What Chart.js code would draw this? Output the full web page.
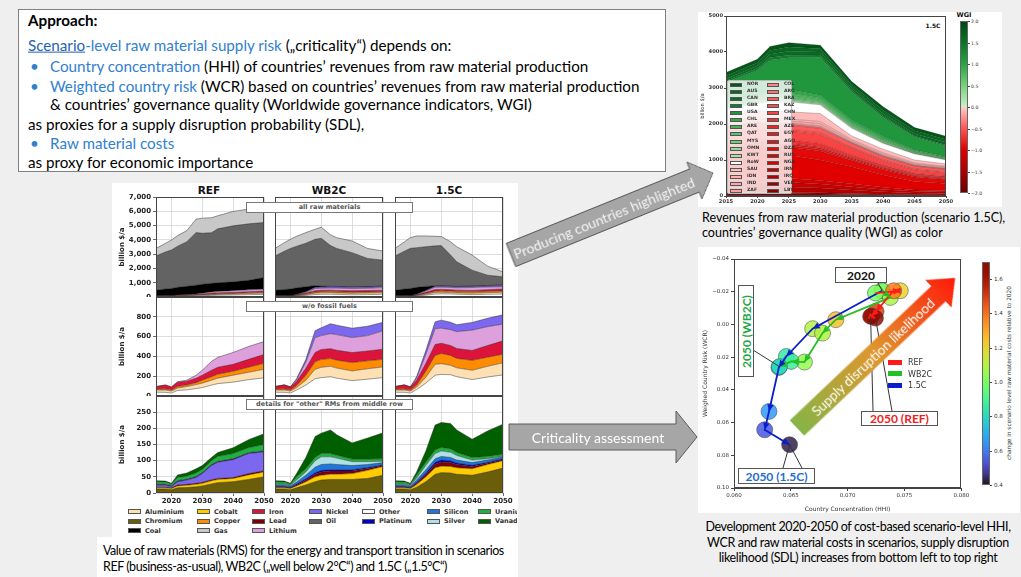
<!DOCTYPE html>
<html>
<head>
<meta charset="utf-8">
<title>Raw material criticality</title>
<script src="https://cdn.jsdelivr.net/npm/chart.js@4.4.1/dist/chart.umd.min.js"></script>
<style>
html, body { margin: 0; padding: 0; }
body { width: 1021px; height: 577px; position: relative; overflow: hidden; background: #efefef; font-family: Lato, "Noto Sans", sans-serif; color: #111; }
.box { position: absolute; background: #fff; }
.t { position: absolute; white-space: nowrap; transform: translateY(-50%); line-height: 1.1; }
canvas { position: absolute; }
.ap { font-size: 15.2px; color: #000; }
.blue, .ap.blue { color: #2f80cf; }
.tag { position: absolute; z-index: 5; background: #fff; border: 1px solid #777; box-sizing: border-box; font: bold 6.5px "DejaVu Sans", sans-serif; color: #555; text-align: center; line-height: 9px; }
.ttl { position: absolute; font: bold 10.5px "DejaVu Sans", sans-serif; transform: translate(-50%, -50%); }
.leg { position: absolute; font: bold 6.5px "DejaVu Sans", sans-serif; color: #333; white-space: nowrap; }
.sw { position: absolute; border: 0.5px solid #555; box-sizing: border-box; }
.cap { font-size: 12.5px; color: #000; }
.note { position: absolute; z-index: 6; background: #fff; border: 1px solid #555; box-sizing: border-box; font: bold 12px Lato, sans-serif; display: flex; align-items: center; justify-content: center; }
</style>
</head>
<body>

<!-- approach text box -->
<div class="box" style="left:18px;top:9px;width:648px;height:163px;border:1px solid #808080;box-sizing:border-box"></div>
<div class="t ap" style="left:28px;top:20px;font-weight:700">Approach:</div>
<div class="t ap" style="left:28px;top:45px"><span class="blue"><u style="color:#1f64b4">Scenario</u>-level raw material supply risk</span> („criticality“) depends on:</div>
<div class="t ap blue" style="left:30px;top:66px">•</div>
<div class="t ap" style="left:50px;top:66px"><span class="blue">Country concentration</span> (HHI) of countries’ revenues from raw material production</div>
<div class="t ap blue" style="left:30px;top:86px">•</div>
<div class="t ap" style="left:50px;top:86px"><span class="blue">Weighted country risk</span> (WCR) based on countries’ revenues from raw material production</div>
<div class="t ap" style="left:50px;top:104px">&amp; countries’ governance quality (Worldwide governance indicators, WGI)</div>
<div class="t ap" style="left:28px;top:124px">as proxies for a supply disruption probability (SDL),</div>
<div class="t ap blue" style="left:30px;top:143px">•</div>
<div class="t ap blue" style="left:50px;top:143px">Raw material costs</div>
<div class="t ap" style="left:28px;top:162px">as proxy for economic importance</div>

<!-- white panels -->
<div class="box" style="left:112px;top:183px;width:406px;height:354px"></div>
<div class="box" style="left:97px;top:537px;width:421px;height:40px"></div>
<div class="box" style="left:698px;top:12px;width:304px;height:195px"></div>
<div class="box" style="left:698px;top:247px;width:322px;height:266px"></div>

<!-- left grid titles and tags -->
<div class="ttl" style="left:209px;top:190px">REF</div>
<div class="ttl" style="left:329px;top:190px">WB2C</div>
<div class="ttl" style="left:449px;top:190px">1.5C</div>
<div class="tag" style="left:246px;top:202px;width:167px;height:11px">all raw materials</div>
<div class="tag" style="left:246px;top:301px;width:167px;height:11px">w/o fossil fuels</div>
<div class="tag" style="left:246px;top:399px;width:167px;height:11px">details for "other" RMs from middle row</div>
<div id="gridLegend" style="position:absolute;left:112px;top:505px;width:405px;height:32px;overflow:hidden"></div>

<div class="t cap" style="left:103px;top:551px;letter-spacing:-0.45px">Value of raw materials (RMS) for the energy and transport transition in scenarios</div>
<div class="t cap" style="left:103px;top:567px;letter-spacing:-0.45px">REF (business-as-usual), WB2C („well below 2°C“) and 1.5C („1.5°C“)</div>

<!-- top right -->
<div id="revLegend" style="position:absolute;z-index:5;left:727px;top:80px;width:65px;height:114px;background:rgba(255,255,255,0.8);border:0.5px solid #bbb;box-sizing:border-box;border-radius:2px"></div>
<div class="t" style="left:933px;top:25px;font:bold 6px 'DejaVu Sans',sans-serif;transform:translate(-50%,-50%)">1.5C</div>
<div class="t" style="left:964px;top:15px;font:bold 6.5px 'DejaVu Sans',sans-serif;transform:translate(-50%,-50%)">WGI</div>
<div id="wgiBar" style="position:absolute;left:960px;top:21px;width:8px;height:172px;border:0.5px solid #666;box-sizing:border-box"></div>
<div class="t cap" style="left:702px;top:218px">Revenues from raw material production (scenario 1.5C),</div>
<div class="t cap" style="left:702px;top:233px">countries’ governance quality (WGI) as color</div>

<!-- bottom right -->
<div id="costBar" style="position:absolute;left:982px;top:262px;width:8px;height:223px;border:0.5px solid #666;box-sizing:border-box"></div>
<div class="t" style="left:1009px;top:373px;font:5.8px 'DejaVu Sans',sans-serif;color:#333;transform:translate(-50%,-50%) rotate(-90deg)">change in scenario level raw material costs relative to 2020</div>
<div id="scatLegend"></div>
<div class="note" style="left:835px;top:267px;width:52px;height:16px;color:#111">2020</div>
<div class="note" style="left:738px;top:285px;width:16px;height:92px;color:#1fa84a"><span style="transform:rotate(-90deg);white-space:nowrap">2050 (WB2C)</span></div>
<div class="note" style="left:861px;top:411px;width:77px;height:15px;color:#ee2222">2050 (REF)</div>
<div class="note" style="left:738px;top:468px;width:77px;height:16px;color:#1e6fd0">2050 (1.5C)</div>
<div class="t cap" style="left:858px;top:527px;letter-spacing:-0.35px;transform:translate(-50%,-50%)">Development 2020-2050 of cost-based scenario-level HHI,</div>
<div class="t cap" style="left:858px;top:543px;letter-spacing:-0.35px;transform:translate(-50%,-50%)">WCR and raw material costs in scenarios, supply disruption</div>
<div class="t cap" style="left:858px;top:558px;letter-spacing:-0.35px;transform:translate(-50%,-50%)">likelihood (SDL) increases from bottom left to top right</div>

<script>
// ---------- left grid: value of raw materials, billion $/a ----------
const gridYears = [2015, 2018, 2020, 2022, 2025, 2028, 2030, 2033, 2035, 2040, 2045, 2050];
const gridXTicks = [2020, 2030, 2040, 2050];
const row1Ticks = [0, 1000, 2000, 3000, 4000, 5000, 6000, 7000];
const row2Ticks = [0, 200, 400, 600, 800];
const row3Ticks = [0, 50, 100, 150, 200, 250];
const rowMax = [7000, 1000, 300];

const refOther     = [38, 37, 30, 56, 62, 75, 85, 110, 125, 140, 165, 183];
const refAluminium = [22, 23, 20, 24, 33, 40, 45, 50, 55, 70, 75, 87];
const refCopper    = [10, 12, 10, 15, 15, 20, 30, 35, 40, 40, 50, 60];
const refIron      = [25, 38, 30, 45, 40, 45, 50, 65, 70, 70, 80, 90];
const refLithium   = [0, 2, 2, 5, 10, 30, 50, 90, 100, 120, 130, 130];
const refCoal      = [375, 448, 508, 535, 590, 620, 630, 610, 600, 620, 670, 810];
const refOil       = [2396, 2590, 2690, 2870, 3126, 3680, 3570, 3540, 3780, 3920, 3950, 3855];
const refGas       = [540, 600, 700, 750, 774, 940, 1060, 1050, 915, 1010, 1035, 1080];
const refChromium  = [12, 12, 10, 16, 17, 19, 22, 28, 32, 35, 42, 50];
const refCobalt    = [4, 4, 4, 6, 7, 8, 8, 10, 10, 10, 14, 15];
const refLead      = [2, 2, 2, 3, 3, 3, 3, 3, 3, 3, 4, 4];
const refNickel    = [6, 6, 4, 10, 13, 18, 27, 44, 50, 55, 62, 58];
const refPlatinum  = [1, 1, 1, 1, 1, 1, 1, 1, 1, 1, 1, 1];
const refSilicon   = [1, 1, 1, 1, 1, 1, 1, 1, 1, 1, 1, 1];
const refSilver    = [1, 1, 1, 1, 1, 1, 1, 1, 1, 1, 1, 1];
const refUranium   = [8, 7, 5, 10, 9, 11, 10, 12, 15, 16, 15, 20];
const refVanadium  = [3, 3, 2, 8, 10, 13, 12, 10, 12, 18, 25, 33];

const wbOther      = [38, 37, 30, 60, 110, 175, 185, 195, 180, 155, 170, 186];
const wbAluminium  = [22, 23, 20, 25, 50, 95, 105, 105, 102, 98, 105, 108];
const wbCopper     = [10, 12, 10, 20, 50, 75, 80, 78, 80, 85, 80, 77];
const wbIron       = [25, 38, 30, 45, 70, 95, 100, 100, 100, 101, 100, 102];
const wbLithium    = [0, 2, 2, 15, 60, 150, 140, 152, 158, 151, 155, 185];
const wbNickel     = [0, 0, 0, 10, 30, 70, 80, 100, 95, 95, 95, 87];
const wbCoal       = [375, 418, 468, 465, 350, 140, 70, 30, 25, 25, 25, 25];
const wbOil        = [2396, 2670, 2840, 2910, 3040, 3240, 3350, 2840, 2660, 2390, 1970, 1810];
const wbGas        = [540, 600, 640, 700, 750, 705, 775, 750, 750, 820, 700, 640];
const wbChromium   = [12, 12, 10, 16, 25, 35, 40, 42, 42, 42, 45, 55];
const wbCobalt     = [4, 4, 4, 6, 10, 15, 15, 16, 16, 18, 25, 27];
const wbLead       = [2, 2, 2, 3, 5, 8, 10, 10, 10, 8, 6, 3];
const wbPlatinum   = [2, 2, 2, 3, 4, 5, 5, 4, 4, 4, 3, 2];
const wbSilicon    = [5, 5, 4, 6, 11, 17, 18, 18, 16, 13, 9, 7];
const wbSilver     = [2, 2, 2, 6, 10, 20, 24, 22, 20, 12, 9, 4];
const wbUranium    = [8, 7, 4, 10, 10, 10, 10, 10, 9, 8, 8, 8];
const wbVanadium   = [3, 3, 2, 10, 35, 65, 63, 73, 63, 50, 65, 80];

const c15Other     = [38, 37, 30, 65, 130, 210, 218, 215, 195, 166, 192, 213];
const c15Aluminium = [22, 23, 20, 25, 60, 110, 109, 95, 90, 94, 108, 122];
const c15Copper    = [10, 12, 10, 20, 60, 90, 102, 100, 95, 100, 92, 87];
const c15Iron      = [25, 38, 30, 50, 80, 110, 104, 100, 100, 100, 118, 135];
const c15Lithium   = [0, 2, 2, 20, 90, 160, 152, 160, 170, 205, 190, 169];
const c15Nickel    = [0, 0, 0, 15, 40, 70, 81, 75, 70, 78, 85, 94];
const c15Coal      = [375, 448, 508, 485, 280, 40, 24, 25, 25, 25, 25, 25];
const c15Oil       = [2396, 2640, 2806, 2770, 2780, 2790, 2810, 2166, 1721, 1112, 717, 565];
const c15Gas       = [540, 650, 754, 825, 755, 670, 630, 934, 1054, 1056, 633, 350];
const c15Chromium  = [12, 12, 10, 18, 35, 58, 63, 62, 58, 55, 65, 77];
const c15Cobalt    = [4, 4, 4, 8, 15, 20, 20, 20, 20, 20, 23, 23];
const c15Lead      = [2, 2, 2, 4, 7, 11, 13, 12, 10, 7, 4, 3];
const c15Platinum  = [2, 2, 2, 3, 5, 6, 6, 6, 5, 4, 3, 3];
const c15Silicon   = [5, 5, 4, 7, 10, 11, 11, 10, 9, 8, 7, 5];
const c15Silver    = [2, 2, 2, 6, 13, 16, 17, 16, 14, 8, 4, 2];
const c15Uranium   = [8, 7, 4, 9, 10, 11, 11, 10, 9, 8, 7, 7];
const c15Vanadium  = [3, 3, 2, 10, 35, 77, 77, 79, 70, 56, 79, 93];

const legendMaterials = ['Aluminium', 'Chromium', 'Coal', 'Cobalt', 'Copper', 'Gas', 'Iron', 'Lead', 'Lithium',
  'Nickel', 'Oil', 'Other', 'Platinum', 'Silicon', 'Silver', 'Uranium', 'Vanadium'];

// ---------- top right: revenues by producing country, 1.5C ----------
const revYears = [2015, 2020, 2022, 2025, 2030, 2035, 2040, 2045, 2050];
const revXTicks = [2015, 2020, 2025, 2030, 2035, 2040, 2045, 2050];
const revYTicks = [0, 1000, 2000, 3000, 4000, 5000];
const countries = ['NOR', 'AUS', 'CAN', 'GBR', 'USA', 'CHL', 'ARE', 'QAT', 'MYS', 'OMN', 'KWT', 'RoW', 'SAU', 'IDN', 'IND', 'ZAF',
  'COL', 'ARG', 'BRA', 'KAZ', 'CHN', 'MEX', 'AZE', 'EGY', 'AGO', 'DZA', 'RUS', 'NGA', 'IRN', 'IRQ', 'VEN', 'LBY'];
const wgi = [1.85, 1.65, 1.6, 1.4, 1.15, 0.95, 0.8, 0.7, 0.55, 0.35, 0.2, null, -0.08, -0.12, -0.16, -0.2,
  -0.3, -0.38, -0.48, -0.55, -0.6, -0.72, -0.78, -0.84, -0.9, -0.95, -1.0, -1.1, -1.25, -1.45, -1.6, -1.8];
const wgiTicks = [2.0, 1.5, 1.0, 0.5, 0.0, -0.5, -1.0, -1.5, -2.0];

const revNOR = [100, 100, 110, 120, 100, 90, 100, 90, 90];
const revAUS = [70, 80, 100, 120, 90, 80, 90, 80, 80];
const revCAN = [60, 70, 90, 110, 80, 70, 70, 60, 70];
const revGBR = [50, 60, 70, 70, 70, 50, 40, 30, 30];
const revUSA = [500, 690, 830, 880, 1050, 780, 530, 360, 300];
const revCHL = [60, 60, 90, 90, 80, 70, 60, 40, 35];
const revARE = [60, 50, 80, 80, 60, 50, 40, 20, 15];
const revQAT = [40, 40, 60, 60, 50, 40, 35, 20, 15];
const revMYS = [30, 30, 40, 40, 30, 30, 25, 15, 10];
const revOMN = [30, 25, 40, 35, 25, 20, 15, 8, 8];
const revKWT = [30, 25, 40, 35, 25, 20, 15, 7, 7];
const revRoW = [150, 210, 250, 280, 240, 210, 160, 170, 110];
const revSAU = [200, 180, 190, 200, 220, 100, 100, 80, 70];
const revIDN = [50, 50, 50, 55, 60, 40, 40, 30, 25];
const revIND = [40, 50, 50, 50, 60, 30, 30, 25, 25];
const revZAF = [30, 30, 30, 30, 35, 20, 20, 15, 15];
const revCOL = [20, 20, 20, 20, 20, 10, 10, 10, 8];
const revARG = [10, 10, 10, 15, 15, 10, 10, 10, 7];
const revBRA = [100, 110, 110, 110, 120, 100, 80, 70, 70];
const revKAZ = [60, 60, 60, 60, 60, 40, 30, 30, 25];
const revCHN = [240, 250, 250, 240, 240, 180, 120, 100, 95];
const revMEX = [90, 90, 90, 80, 90, 60, 50, 40, 35];
const revAZE = [30, 30, 30, 30, 30, 20, 20, 15, 15];
const revEGY = [40, 40, 40, 40, 40, 30, 25, 20, 20];
const revAGO = [60, 60, 50, 50, 50, 40, 35, 30, 25];
const revDZA = [230, 240, 230, 220, 250, 180, 150, 125, 105];
const revRUS = [600, 650, 650, 650, 570, 470, 340, 230, 200];
const revNGA = [100, 110, 110, 110, 100, 80, 60, 40, 40];
const revIRN = [120, 130, 130, 130, 110, 90, 60, 45, 40];
const revIRQ = [130, 150, 150, 150, 130, 100, 70, 50, 45];
const revVEN = [40, 40, 40, 40, 35, 30, 20, 15, 12];
const revLBY = [60, 60, 60, 60, 55, 40, 30, 20, 13];

// ---------- bottom right: criticality development ----------
const scatYears = [2020, 2025, 2030, 2035, 2040, 2045, 2050];
const refHHI  = [0.07245, 0.07463, 0.07405, 0.07250, 0.07210, 0.07202, 0.07245];
const refWCR  = [-0.0192, -0.0206, -0.0206, -0.0080, -0.0052, -0.0049, -0.0039];
const refCost = [1.0, 1.2, 1.38, 1.5, 1.58, 1.64, 1.68];
const wbHHI   = [0.07303, 0.07376, 0.06896, 0.06779, 0.06620, 0.06503, 0.06400];
const wbWCR   = [-0.0206, -0.0165, -0.0029, 0.0053, 0.0230, 0.0226, 0.0258];
const wbCost  = [1.0, 1.08, 1.25, 1.1, 1.05, 0.87, 0.8];
const c15HHI  = [0.07303, 0.06692, 0.06460, 0.06395, 0.06308, 0.06270, 0.06489];
const c15WCR  = [-0.0206, 0.0026, 0.0196, 0.0263, 0.0532, 0.0644, 0.0735];
const c15Cost = [1.0, 1.1, 0.85, 0.77, 0.65, 0.53, 0.42];
const hhiTicks = [0.060, 0.065, 0.070, 0.075, 0.080];
const wcrTicks = [-0.04, -0.02, 0.00, 0.02, 0.04, 0.06, 0.08, 0.10];
const costTicks = [0.4, 0.6, 0.8, 1.0, 1.2, 1.4, 1.6];

// ---------- styles ----------
Chart.defaults.font.family = "'DejaVu Sans', sans-serif";
Chart.defaults.color = '#222';

const matColors = {
  Aluminium: '#fde0b4', Chromium: '#6b5e0a', Coal: '#000000', Cobalt: '#ffcc00', Copper: '#ff8c00',
  Gas: '#c8c8c8', Iron: '#dc143c', Lead: '#800000', Lithium: '#dda0dd', Nickel: '#7b68ee', Oil: '#636363',
  Other: '#ffffff', Platinum: '#0000cd', Silicon: '#1e78dc', Silver: '#b0e0e6', Uranium: '#20b040', Vanadium: '#006000'
};
const wgiRed = [[-2, [110, 0, 0]], [-1.5, [175, 0, 0]], [-1, [225, 0, 0]], [-0.5, [255, 85, 85]], [0, [255, 205, 205]]];
const wgiGreen = [[0, [200, 240, 200]], [0.5, [120, 210, 125]], [1, [40, 165, 70]], [1.5, [12, 118, 40]], [2, [0, 72, 18]]];

function interp(stops, v) {
  for (let i = 1; i < stops.length; i++) {
    if (v <= stops[i][0]) {
      const [a, ca] = stops[i - 1], [b, cb] = stops[i];
      const f = (v - a) / (b - a);
      return ca.map((c, k) => Math.round(c + (cb[k] - c) * f));
    }
  }
  return stops[stops.length - 1][1];
}
function wgiColor(v) {
  if (v === null) return '#ffffff';
  const c = v < 0 ? interp(wgiRed, v) : interp(wgiGreen, v);
  return `rgb(${c[0]},${c[1]},${c[2]})`;
}
function turbo(t) {
  t = Math.min(1, Math.max(0, t));
  const r = 0.13572138 + t * (4.61539260 + t * (-42.66032258 + t * (132.13108234 + t * (-152.94239396 + t * 59.28637943))));
  const g = 0.09140261 + t * (2.19418839 + t * (4.84296658 + t * (-14.18503333 + t * (4.27729857 + t * 2.82956604))));
  const b = 0.10667330 + t * (12.64194608 + t * (-60.58204836 + t * (110.36276771 + t * (-89.90310912 + t * 27.34824973))));
  const c = x => Math.round(255 * Math.min(1, Math.max(0, x)));
  return [c(r), c(g), c(b)];
}
function costColor(v, a) {
  const [r, g, b] = turbo((v - 0.4) / 1.3);
  return `rgba(${r},${g},${b},${a})`;
}

// draws the axes box like matplotlib spines
const frame = {
  id: 'frame',
  afterDraw(chart) {
    const { ctx, chartArea: a } = chart;
    ctx.save();
    ctx.strokeStyle = '#444';
    ctx.lineWidth = 1;
    ctx.strokeRect(Math.round(a.left) + 0.5, Math.round(a.top) + 0.5, Math.round(a.width) - 1, Math.round(a.height) - 1);
    ctx.restore();
  }
};

function makeCanvas(left, top, w, h) {
  const cv = document.createElement('canvas');
  cv.width = w; cv.height = h;
  cv.style.left = left + 'px'; cv.style.top = top + 'px';
  cv.style.width = w + 'px'; cv.style.height = h + 'px';
  document.body.appendChild(cv);
  return cv;
}

// ---------- left grid ----------
const gridTable = {
  REF: [
    [['Other', refOther], ['Aluminium', refAluminium], ['Copper', refCopper], ['Iron', refIron], ['Lithium', refLithium], ['Coal', refCoal], ['Oil', refOil], ['Gas', refGas]],
    [['Other', refOther], ['Aluminium', refAluminium], ['Copper', refCopper], ['Iron', refIron], ['Lithium', refLithium]],
    [['Chromium', refChromium], ['Cobalt', refCobalt], ['Lead', refLead], ['Nickel', refNickel], ['Platinum', refPlatinum], ['Silicon', refSilicon], ['Silver', refSilver], ['Uranium', refUranium], ['Vanadium', refVanadium]]
  ],
  WB2C: [
    [['Other', wbOther], ['Aluminium', wbAluminium], ['Copper', wbCopper], ['Iron', wbIron], ['Lithium', wbLithium], ['Nickel', wbNickel], ['Coal', wbCoal], ['Oil', wbOil], ['Gas', wbGas]],
    [['Other', wbOther], ['Aluminium', wbAluminium], ['Copper', wbCopper], ['Iron', wbIron], ['Lithium', wbLithium], ['Nickel', wbNickel]],
    [['Chromium', wbChromium], ['Cobalt', wbCobalt], ['Lead', wbLead], ['Platinum', wbPlatinum], ['Silicon', wbSilicon], ['Silver', wbSilver], ['Uranium', wbUranium], ['Vanadium', wbVanadium]]
  ],
  '1.5C': [
    [['Other', c15Other], ['Aluminium', c15Aluminium], ['Copper', c15Copper], ['Iron', c15Iron], ['Lithium', c15Lithium], ['Nickel', c15Nickel], ['Coal', c15Coal], ['Oil', c15Oil], ['Gas', c15Gas]],
    [['Other', c15Other], ['Aluminium', c15Aluminium], ['Copper', c15Copper], ['Iron', c15Iron], ['Lithium', c15Lithium], ['Nickel', c15Nickel]],
    [['Chromium', c15Chromium], ['Cobalt', c15Cobalt], ['Lead', c15Lead], ['Platinum', c15Platinum], ['Silicon', c15Silicon], ['Silver', c15Silver], ['Uranium', c15Uranium], ['Vanadium', c15Vanadium]]
  ]
};
const rowTicks = [row1Ticks, row2Ticks, row3Ticks];

const colLeft = [156, 275, 395], rowTop = [197, 297, 396], rowH = [100, 99, 97], PW = 108;
const tickFont = { size: 7, weight: 'bold' };

function gridChart(col, row, layers) {
  const leftExtra = col === 0 ? 44 : 0;
  const bottomExtra = row === 2 ? 13 : 0;
  const padTop = 5, padRight = 12;
  const cv = makeCanvas(colLeft[col] - leftExtra, rowTop[row] - padTop,
    leftExtra + PW + padRight, padTop + rowH[row] + bottomExtra);
  const ticksY = rowTicks[row];
  new Chart(cv, {
    type: 'line',
    data: {
      datasets: layers.map(([name, vals], i) => ({
        label: name,
        data: vals.map((v, k) => ({ x: gridYears[k], y: v })),
        backgroundColor: matColors[name],
        borderColor: 'rgba(30,30,30,0.75)',
        borderWidth: 0.6,
        pointRadius: 0,
        tension: 0,
        fill: i === 0 ? 'origin' : '-1'
      }))
    },
    options: {
      responsive: false, animation: false, events: [],
      layout: { padding: { top: padTop, right: padRight, left: 0, bottom: 0 } },
      plugins: { legend: { display: false }, tooltip: { enabled: false } },
      scales: {
        x: {
          type: 'linear', min: 2015, max: 2050,
          afterBuildTicks: s => { s.ticks = gridXTicks.map(v => ({ value: v })); },
          afterFit: s => { s.height = bottomExtra; s.paddingLeft = 0; s.paddingRight = 0; },
          ticks: { display: row === 2, font: tickFont, color: '#222', padding: 1, maxRotation: 0, callback: v => String(v) },
          grid: { color: '#d4d4d4', lineWidth: 0.8, drawTicks: row === 2, tickLength: 3, tickColor: '#444' },
          border: { display: false }
        },
        y: {
          stacked: true, min: 0, max: rowMax[row],
          afterBuildTicks: s => { s.ticks = ticksY.map(v => ({ value: v })); },
          afterFit: s => { s.width = leftExtra; s.paddingTop = 0; s.paddingBottom = 0; },
          ticks: { display: col === 0, font: tickFont, color: '#222', padding: 2, callback: v => v.toLocaleString('en-US') },
          grid: { color: '#d4d4d4', lineWidth: 0.8, drawTicks: col === 0, tickLength: 3, tickColor: '#444' },
          border: { display: false },
          title: { display: col === 0, text: 'billion $/a', font: { size: 7, weight: 'bold' }, padding: { top: 6, bottom: 0 } }
        }
      }
    },
    plugins: [frame]
  });
}

['REF', 'WB2C', '1.5C'].forEach((sc, c) => {
  gridTable[sc].forEach((layers, r) => gridChart(c, r, layers));
});

// grid legend, 3 rows per column
(function () {
  const el = document.getElementById('gridLegend');
  const colX = [16, 85, 140, 197, 250, 315, 366];
  const rowY = [3, 12.5, 22];
  const perCol = [3, 3, 3, 2, 2, 2, 2];
  let k = 0;
  perCol.forEach((n, c) => {
    for (let r = 0; r < n; r++) {
      const name = legendMaterials[k++];
      const sw = document.createElement('div');
      sw.className = 'sw';
      sw.style.cssText = `left:${colX[c]}px;top:${rowY[r] + 1}px;width:13px;height:5px;background:${matColors[name]}`;
      const tx = document.createElement('div');
      tx.className = 'leg';
      tx.style.cssText = `left:${colX[c] + 17}px;top:${rowY[r] - 0.5}px`;
      tx.textContent = name;
      el.appendChild(sw); el.appendChild(tx);
    }
  });
})();

// ---------- top right chart ----------
const revTable = [revNOR, revAUS, revCAN, revGBR, revUSA, revCHL, revARE, revQAT, revMYS, revOMN, revKWT, revRoW, revSAU, revIDN, revIND, revZAF,
  revCOL, revARG, revBRA, revKAZ, revCHN, revMEX, revAZE, revEGY, revAGO, revDZA, revRUS, revNGA, revIRN, revIRQ, revVEN, revLBY];

(function () {
  const cv = makeCanvas(698, 12, 258, 195);
  const order = countries.map((c, i) => i).reverse();   // stack LBY at bottom, NOR on top
  new Chart(cv, {
    type: 'line',
    data: {
      datasets: order.map((i, n) => ({
        label: countries[i],
        data: revTable[i].map((v, k) => ({ x: revYears[k], y: v })),
        backgroundColor: wgiColor(wgi[i]),
        borderColor: 'rgba(0,0,0,0.4)',
        borderWidth: 0.5,
        pointRadius: 0,
        tension: 0,
        fill: n === 0 ? 'origin' : '-1'
      }))
    },
    options: {
      responsive: false, animation: false, events: [],
      layout: { padding: { top: 4, right: 10, left: 0, bottom: 0 } },
      plugins: { legend: { display: false }, tooltip: { enabled: false } },
      scales: {
        x: {
          type: 'linear', min: 2015, max: 2050,
          afterBuildTicks: s => { s.ticks = revXTicks.map(v => ({ value: v })); },
          afterFit: s => { s.height = 11; s.paddingLeft = 0; s.paddingRight = 0; },
          ticks: { font: { size: 5.2, weight: 'bold' }, color: '#333', padding: 1, maxRotation: 0, callback: v => String(v) },
          grid: { drawOnChartArea: false, tickLength: 2, color: '#444' },
          border: { color: '#444' }
        },
        y: {
          stacked: true, min: 0, max: 5000,
          afterBuildTicks: s => { s.ticks = revYTicks.map(v => ({ value: v })); },
          afterFit: s => { s.width = 28; s.paddingTop = 0; s.paddingBottom = 0; },
          ticks: { font: { size: 5.2, weight: 'bold' }, color: '#333', padding: 1, callback: v => String(v) },
          grid: { drawOnChartArea: false, tickLength: 2, color: '#444' },
          border: { color: '#444' },
          title: { display: true, text: 'billion $/a', font: { size: 5.2 }, color: '#333', padding: { top: 2, bottom: 0 } }
        }
      }
    },
    plugins: [frame]
  });

  // legend, two columns of 16
  const lg = document.getElementById('revLegend');
  countries.forEach((c, i) => {
    const col = i < 16 ? 0 : 1, r = i % 16;
    const y = 3 + r * 7.07;
    const sw = document.createElement('div');
    sw.className = 'sw';
    sw.style.cssText = `left:${col ? 39 : 2}px;top:${y - 1}px;width:12px;height:4px;background:${wgiColor(wgi[i])}`;
    const tx = document.createElement('div');
    tx.className = 'leg';
    tx.style.cssText = `left:${col ? 56 : 19}px;top:${y - 3}px;font-size:4.6px;color:#333`;
    tx.textContent = c;
    lg.appendChild(sw); lg.appendChild(tx);
  });

  // WGI colour bar
  const bar = document.getElementById('wgiBar');
  const stops = [];
  wgiGreen.slice().reverse().forEach(([v, c]) => stops.push(`rgb(${c}) ${(2 - v) / 4 * 100}%`));
  wgiRed.slice().reverse().forEach(([v, c]) => stops.push(`rgb(${c}) ${(2 - v) / 4 * 100}%`));
  bar.style.background = `linear-gradient(to bottom, ${stops.join(',')})`;
  wgiTicks.forEach(v => {
    const y = 21 + (2 - v) / 4 * 172;
    const tk = document.createElement('div');
    tk.style.cssText = `position:absolute;left:968px;top:${y}px;width:2px;height:0.5px;background:#444`;
    const tx = document.createElement('div');
    tx.className = 't';
    tx.style.cssText = `left:971px;top:${y}px;font:4.6px 'DejaVu Sans',sans-serif;color:#333`;
    tx.textContent = (v < 0 ? '\u2212' : '') + Math.abs(v).toFixed(1);
    document.body.appendChild(tk); document.body.appendChild(tx);
  });
})();

// ---------- scatter ----------
const scatterOffset = { x: 698, y: 247 };
const leaders = [
  { from: [878, 283], ds: 1, idx: 0 },
  { from: [753, 350], ds: 1, idx: 6 },
  { from: [873, 411], ds: 0, idx: 5 },
  { from: [892, 411], ds: 0, idx: 6 },
  { from: [783, 468], ds: 2, idx: 6 },
  { from: [802, 468], ds: 2, idx: 6 }
];
const arrowHeads = {
  id: 'arrowHeads',
  afterDatasetsDraw(chart) {
    const ctx = chart.ctx;
    chart.data.datasets.forEach((ds, i) => {
      if (!ds.arrows) return;
      const pts = chart.getDatasetMeta(i).data;
      ctx.save();
      ctx.fillStyle = ds.borderColor;
      for (let k = 1; k < pts.length; k++) {
        const a = pts[k - 1], b = pts[k];
        const ang = Math.atan2(b.y - a.y, b.x - a.x);
        if (Math.hypot(b.x - a.x, b.y - a.y) < 3) continue;
        ctx.beginPath();
        ctx.moveTo(b.x, b.y);
        ctx.lineTo(b.x - 7 * Math.cos(ang) + 3.2 * Math.sin(ang), b.y - 7 * Math.sin(ang) - 3.2 * Math.cos(ang));
        ctx.lineTo(b.x - 7 * Math.cos(ang) - 3.2 * Math.sin(ang), b.y - 7 * Math.sin(ang) + 3.2 * Math.cos(ang));
        ctx.closePath();
        ctx.fill();
      }
      ctx.restore();
    });
  },
  afterDraw(chart) {
    const ctx = chart.ctx;
    ctx.save();
    ctx.strokeStyle = '#333';
    ctx.lineWidth = 1;
    leaders.forEach(l => {
      const p = chart.getDatasetMeta(l.ds).data[l.idx];
      ctx.beginPath();
      ctx.moveTo(l.from[0] - scatterOffset.x, l.from[1] - scatterOffset.y);
      ctx.lineTo(p.x, p.y);
      ctx.stroke();
    });
    ctx.restore();
  }
};

(function () {
  const cv = makeCanvas(scatterOffset.x, scatterOffset.y, 272, 266);
  const series = [
    { name: 'REF', hhi: refHHI, wcr: refWCR, cost: refCost, color: '#ff1a1a' },
    { name: 'WB2C', hhi: wbHHI, wcr: wbWCR, cost: wbCost, color: '#22c022' },
    { name: '1.5C', hhi: c15HHI, wcr: c15WCR, cost: c15Cost, color: '#0a1ecc' }
  ];
  const pts = s => s.hhi.map((h, k) => ({ x: h, y: s.wcr[k] }));
  const lines = series.map(s => ({
    label: s.name, data: pts(s), showLine: true, arrows: true,
    borderColor: s.color, borderWidth: 1.8, pointRadius: 0, tension: 0
  }));
  const dots = series.map(s => ({
    label: s.name + ' points', data: pts(s),
    pointRadius: 8, pointBorderWidth: 0.7, pointBorderColor: 'rgba(60,60,60,0.7)',
    pointBackgroundColor: s.cost.map(v => costColor(v, 0.85)), showLine: false
  }));
  new Chart(cv, {
    type: 'scatter',
    data: { datasets: lines.concat(dots) },
    options: {
      responsive: false, animation: false, events: [],
      layout: { padding: { top: 12, right: 8, left: 0, bottom: 0 } },
      plugins: { legend: { display: false }, tooltip: { enabled: false } },
      scales: {
        x: {
          type: 'linear', min: 0.060, max: 0.080,
          afterBuildTicks: s => { s.ticks = hhiTicks.map(v => ({ value: v })); },
          afterFit: s => { s.height = 25; s.paddingLeft = 0; s.paddingRight = 0; },
          ticks: { font: { size: 5.5 }, color: '#333', padding: 1, maxRotation: 0, callback: v => v.toFixed(3) },
          grid: { drawOnChartArea: false, tickLength: 3, color: '#444' },
          border: { color: '#444' },
          title: { display: true, text: 'Country Concentration (HHI)', font: { size: 6 }, color: '#333', padding: { top: 2, bottom: 0 } }
        },
        y: {
          type: 'linear', min: -0.04, max: 0.10, reverse: true,
          afterBuildTicks: s => { s.ticks = wcrTicks.map(v => ({ value: v })); },
          afterFit: s => { s.width = 36; s.paddingTop = 0; s.paddingBottom = 0; },
          ticks: { font: { size: 5.5 }, color: '#333', padding: 2, callback: v => (v < -1e-9 ? '\u2212' : '') + Math.abs(v).toFixed(2) },
          grid: { drawOnChartArea: false, tickLength: 3, color: '#444' },
          border: { color: '#444' },
          title: { display: true, text: 'Weighed Country Risk (WCR)', font: { size: 6 }, color: '#333', padding: { top: 4, bottom: 0 } }
        }
      }
    },
    plugins: [frame, arrowHeads]
  });

  // legend inside plot
  const lg = document.getElementById('scatLegend');
  series.forEach((s, i) => {
    const y = 362 + i * 11.6;
    const sw = document.createElement('div');
    sw.style.cssText = `position:absolute;z-index:6;left:888px;top:${y - 2.5}px;width:14px;height:5px;background:${s.color}`;
    const tx = document.createElement('div');
    tx.className = 't';
    tx.style.cssText = `z-index:6;left:908px;top:${y}px;font:8px 'DejaVu Sans',sans-serif;color:#333`;
    tx.textContent = s.name;
    lg.appendChild(sw); lg.appendChild(tx);
  });

  // cost colour bar
  const bar = document.getElementById('costBar');
  const stops = [];
  for (let i = 0; i <= 20; i++) {
    const [r, g, b] = turbo(i / 20);
    stops.push(`rgb(${r},${g},${b}) ${i * 5}%`);
  }
  bar.style.background = `linear-gradient(to top, ${stops.join(',')})`;
  costTicks.forEach(v => {
    const y = 485 - (v - 0.4) / 1.3 * 223;
    const tk = document.createElement('div');
    tk.style.cssText = `position:absolute;left:990px;top:${y}px;width:2px;height:0.6px;background:#444`;
    const tx = document.createElement('div');
    tx.className = 't';
    tx.style.cssText = `left:994px;top:${y}px;font:5.6px 'DejaVu Sans',sans-serif;color:#333`;
    tx.textContent = v.toFixed(1);
    document.body.appendChild(tk); document.body.appendChild(tx);
  });
})();

// ---------- block arrows ----------
function blockArrow(o) {
  const L = o.length, h = o.head, s = o.shaft, hl = o.headLen;
  const ns = 'http://www.w3.org/2000/svg';
  const svg = document.createElementNS(ns, 'svg');
  svg.setAttribute('width', L + 2); svg.setAttribute('height', 2 * h + 2);
  svg.style.cssText = `position:absolute;z-index:7;overflow:visible;left:${o.x}px;top:${o.y - h - 1}px;transform-origin:0 ${h + 1}px;transform:rotate(${o.angle}deg)`;
  let fill = o.fill;
  if (o.gradient) {
    const defs = document.createElementNS(ns, 'defs');
    const lg = document.createElementNS(ns, 'linearGradient');
    lg.setAttribute('id', o.id); lg.setAttribute('x1', '0'); lg.setAttribute('x2', '1'); lg.setAttribute('y1', '0'); lg.setAttribute('y2', '0');
    o.gradient.forEach(([off, col]) => {
      const st = document.createElementNS(ns, 'stop');
      st.setAttribute('offset', off); st.setAttribute('stop-color', col);
      lg.appendChild(st);
    });
    defs.appendChild(lg); svg.appendChild(defs);
    fill = `url(#${o.id})`;
  }
  const p = document.createElementNS(ns, 'polygon');
  const yc = h + 1;
  p.setAttribute('points', [[0, yc - s], [L - hl, yc - s], [L - hl, yc - h], [L, yc], [L - hl, yc + h], [L - hl, yc + s], [0, yc + s]].map(q => q.join(',')).join(' '));
  p.setAttribute('fill', fill);
  if (o.stroke) { p.setAttribute('stroke', o.stroke); p.setAttribute('stroke-width', '1'); }
  svg.appendChild(p);
  const t = document.createElementNS(ns, 'text');
  t.setAttribute('x', o.textX); t.setAttribute('y', yc + 0.5);
  t.setAttribute('text-anchor', 'middle'); t.setAttribute('dominant-baseline', 'central');
  t.setAttribute('fill', o.textColor);
  t.setAttribute('style', `font-family:Lato,sans-serif;font-size:${o.fontSize}px;font-weight:${o.weight || 400}`);
  t.textContent = o.text;
  svg.appendChild(t);
  document.body.appendChild(svg);
}
blockArrow({ x: 511, y: 255, length: 218, angle: -22.1, shaft: 12.5, head: 20, headLen: 20,
  fill: '#a6a6a6', stroke: '#5a5a5a', text: 'Producing countries highlighted', textX: 100, textColor: '#f4f4f4', fontSize: 14 });
blockArrow({ x: 509, y: 437, length: 188, angle: 0, shaft: 13, head: 26, headLen: 21,
  fill: '#a6a6a6', stroke: '#5a5a5a', text: 'Criticality assessment', textX: 89, textColor: '#ffffff', fontSize: 14 });
blockArrow({ x: 797, y: 428, length: 218, angle: -43.5, shaft: 10.5, head: 19, headLen: 23, id: 'sdlGrad',
  gradient: [['0', '#86b446'], ['0.5', '#e0962e'], ['1', '#ff1a0a']],
  text: 'Supply disruption likelihood', textX: 104, textColor: '#ffffff', fontSize: 13.5 });
</script>
</body>
</html>
